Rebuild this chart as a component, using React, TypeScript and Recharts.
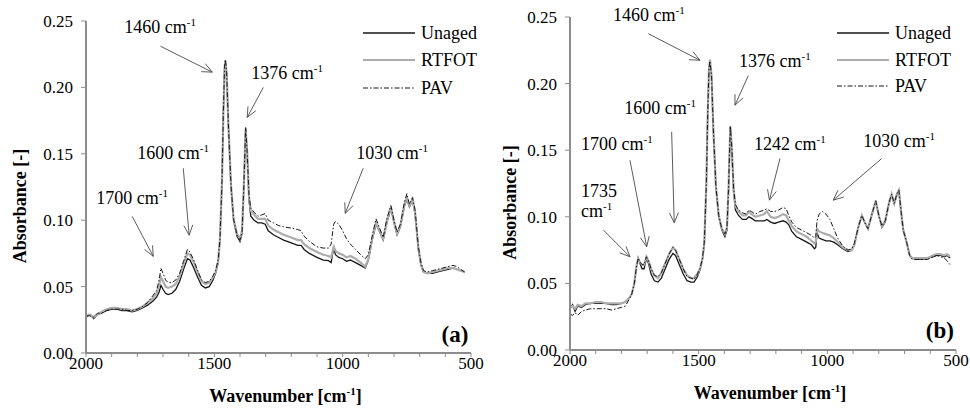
import React from "react"
import { LineChart, Line, XAxis, YAxis, Legend, ReferenceLine, ReferenceDot } from "recharts"

const FONT = "'Liberation Serif', 'Times New Roman', serif"
const AXIS = "#8c8c8c"

// ---- panel (a) ----
const waveA = [
  2000, 1985, 1970, 1955, 1940, 1920, 1900, 1880, 1860, 1840,
  1820, 1800, 1780, 1760, 1740, 1725, 1715, 1708, 1700, 1690,
  1680, 1665, 1650, 1635, 1620, 1605, 1595, 1580, 1565, 1550,
  1535, 1520, 1505, 1495, 1485, 1478, 1470, 1465, 1460, 1457,
  1452, 1445, 1435, 1425, 1412, 1400, 1392, 1385, 1378, 1372,
  1365, 1358, 1345, 1330, 1315, 1302, 1290, 1270, 1250, 1230,
  1200, 1175, 1162, 1150, 1130, 1100, 1075, 1055, 1045, 1035,
  1028, 1015, 1000, 985, 970, 950, 930, 912, 900, 885,
  870, 858, 842, 828, 812, 800, 788, 775, 760, 750,
  740, 728, 718, 705, 695, 685, 670, 650, 630, 610,
  590, 570, 555, 540, 525,
]
const unagedA = [
  0.027, 0.029, 0.026, 0.029, 0.030, 0.032, 0.033, 0.033, 0.032, 0.032,
  0.031, 0.032, 0.034, 0.036, 0.039, 0.042, 0.046, 0.051, 0.048, 0.045,
  0.044, 0.045, 0.048, 0.054, 0.063, 0.071, 0.070, 0.064, 0.057, 0.051,
  0.049, 0.050, 0.055, 0.060, 0.068, 0.085, 0.130, 0.180, 0.215, 0.220,
  0.210, 0.170, 0.125, 0.100, 0.088, 0.084, 0.090, 0.125, 0.169, 0.150,
  0.115, 0.103, 0.100, 0.098, 0.098, 0.097, 0.092, 0.089, 0.087, 0.085,
  0.083, 0.081, 0.081, 0.078, 0.075, 0.072, 0.070, 0.0695, 0.068, 0.079,
  0.074, 0.072, 0.071, 0.069, 0.070, 0.068, 0.066, 0.064, 0.070, 0.085,
  0.097, 0.092, 0.085, 0.098, 0.109, 0.098, 0.089, 0.095, 0.110, 0.116,
  0.110, 0.115, 0.105, 0.078, 0.066, 0.061, 0.060, 0.060, 0.061, 0.062,
  0.063, 0.064, 0.063, 0.062, 0.061,
]
const rtfotA = [
  0.028, 0.029, 0.027, 0.029, 0.031, 0.033, 0.034, 0.034, 0.033, 0.033,
  0.032, 0.033, 0.035, 0.038, 0.041, 0.045, 0.051, 0.057, 0.054, 0.050,
  0.049, 0.050, 0.052, 0.058, 0.067, 0.075, 0.074, 0.068, 0.061, 0.054,
  0.052, 0.053, 0.057, 0.061, 0.069, 0.086, 0.130, 0.180, 0.215, 0.220,
  0.210, 0.171, 0.126, 0.101, 0.090, 0.086, 0.092, 0.126, 0.169, 0.151,
  0.118, 0.107, 0.104, 0.101, 0.101, 0.101, 0.096, 0.093, 0.091, 0.089,
  0.087, 0.085, 0.085, 0.082, 0.079, 0.076, 0.074, 0.073, 0.072, 0.080,
  0.077, 0.075, 0.074, 0.072, 0.073, 0.071, 0.068, 0.065, 0.071, 0.086,
  0.098, 0.093, 0.086, 0.099, 0.110, 0.099, 0.090, 0.096, 0.111, 0.117,
  0.111, 0.116, 0.106, 0.079, 0.067, 0.061, 0.060, 0.061, 0.062, 0.063,
  0.064, 0.064, 0.063, 0.062, 0.061,
]
const pavA = [
  0.028, 0.028, 0.027, 0.030, 0.030, 0.032, 0.033, 0.033, 0.033, 0.032,
  0.032, 0.033, 0.035, 0.038, 0.043, 0.047, 0.055, 0.064, 0.060, 0.055,
  0.053, 0.053, 0.055, 0.060, 0.069, 0.078, 0.076, 0.070, 0.062, 0.055,
  0.053, 0.054, 0.058, 0.062, 0.070, 0.086, 0.130, 0.180, 0.216, 0.221,
  0.211, 0.171, 0.126, 0.101, 0.089, 0.085, 0.091, 0.126, 0.170, 0.151,
  0.119, 0.109, 0.106, 0.103, 0.104, 0.105, 0.100, 0.098, 0.096, 0.095,
  0.094, 0.093, 0.092, 0.088, 0.084, 0.080, 0.079, 0.079, 0.082, 0.097,
  0.099, 0.097, 0.092, 0.086, 0.082, 0.078, 0.074, 0.071, 0.074, 0.088,
  0.101, 0.095, 0.087, 0.101, 0.111, 0.100, 0.091, 0.097, 0.113, 0.120,
  0.112, 0.117, 0.108, 0.080, 0.068, 0.062, 0.061, 0.062, 0.063, 0.064,
  0.065, 0.066, 0.065, 0.063, 0.061,
]

// ---- panel (b) ----
const waveB = [
  2000, 1990, 1980, 1970, 1955, 1940, 1920, 1900, 1880, 1860,
  1840, 1820, 1800, 1785, 1770, 1760, 1750, 1742, 1735, 1728,
  1720, 1712, 1703, 1695, 1685, 1672, 1658, 1645, 1630, 1615,
  1600, 1590, 1575, 1560, 1545, 1530, 1518, 1505, 1495, 1485,
  1478, 1470, 1465, 1460, 1456, 1450, 1443, 1433, 1422, 1410,
  1398, 1390, 1384, 1377, 1371, 1364, 1357, 1345, 1330, 1315,
  1305, 1295, 1280, 1262, 1245, 1235, 1220, 1205, 1190, 1172,
  1160, 1150, 1138, 1120, 1100, 1080, 1062, 1050, 1045, 1040,
  1032, 1020, 1005, 990, 975, 960, 940, 920, 905, 895,
  880, 866, 855, 842, 828, 812, 800, 788, 775, 760,
  750, 740, 730, 722, 714, 705, 692, 680, 670, 650,
  630, 610, 590, 575, 560, 545, 535, 523,
]
const unagedB = [
  0.031, 0.034, 0.029, 0.033, 0.032, 0.034, 0.035, 0.035, 0.035, 0.035,
  0.034, 0.034, 0.035, 0.036, 0.039, 0.042, 0.050, 0.062, 0.069, 0.065,
  0.061, 0.061, 0.069, 0.065, 0.057, 0.052, 0.051, 0.054, 0.061, 0.068,
  0.0725, 0.071, 0.064, 0.057, 0.052, 0.051, 0.051, 0.055, 0.060, 0.068,
  0.080, 0.125, 0.175, 0.210, 0.216, 0.205, 0.165, 0.122, 0.100, 0.090,
  0.085, 0.090, 0.120, 0.168, 0.150, 0.118, 0.105, 0.101, 0.098, 0.098,
  0.100, 0.099, 0.097, 0.097, 0.097, 0.098, 0.096, 0.095, 0.096, 0.097,
  0.096, 0.094, 0.089, 0.085, 0.083, 0.081, 0.079, 0.076, 0.077, 0.088,
  0.084, 0.083, 0.082, 0.082, 0.081, 0.079, 0.076, 0.074, 0.075, 0.079,
  0.092, 0.101, 0.096, 0.091, 0.101, 0.112, 0.101, 0.092, 0.096, 0.110,
  0.116, 0.110, 0.116, 0.120, 0.105, 0.090, 0.081, 0.071, 0.069, 0.068,
  0.068, 0.069, 0.070, 0.071, 0.071, 0.070, 0.071, 0.069,
]
const rtfotB = [
  0.032, 0.033, 0.031, 0.034, 0.033, 0.035, 0.035, 0.036, 0.036, 0.035,
  0.035, 0.035, 0.035, 0.036, 0.039, 0.042, 0.050, 0.063, 0.069, 0.066,
  0.064, 0.064, 0.070, 0.067, 0.061, 0.056, 0.054, 0.058, 0.065, 0.072,
  0.077, 0.075, 0.068, 0.061, 0.056, 0.054, 0.054, 0.057, 0.061, 0.069,
  0.081, 0.126, 0.176, 0.211, 0.218, 0.206, 0.166, 0.123, 0.101, 0.091,
  0.087, 0.092, 0.121, 0.168, 0.151, 0.120, 0.108, 0.104, 0.101, 0.101,
  0.104, 0.102, 0.100, 0.101, 0.102, 0.104, 0.100, 0.099, 0.100, 0.102,
  0.101, 0.097, 0.093, 0.089, 0.087, 0.085, 0.082, 0.080, 0.081, 0.091,
  0.089, 0.088, 0.087, 0.086, 0.084, 0.081, 0.077, 0.075, 0.075, 0.079,
  0.092, 0.101, 0.096, 0.091, 0.101, 0.112, 0.101, 0.093, 0.097, 0.111,
  0.117, 0.110, 0.117, 0.120, 0.105, 0.090, 0.081, 0.071, 0.069, 0.069,
  0.069, 0.069, 0.071, 0.072, 0.072, 0.071, 0.072, 0.070,
]
const pavB = [
  0.027, 0.026, 0.028, 0.026, 0.029, 0.030, 0.031, 0.031, 0.031, 0.031,
  0.030, 0.031, 0.032, 0.033, 0.038, 0.042, 0.050, 0.062, 0.069, 0.066,
  0.064, 0.064, 0.070, 0.067, 0.061, 0.056, 0.055, 0.058, 0.065, 0.072,
  0.077, 0.075, 0.068, 0.061, 0.055, 0.054, 0.053, 0.057, 0.061, 0.069,
  0.081, 0.126, 0.176, 0.211, 0.217, 0.206, 0.166, 0.123, 0.101, 0.091,
  0.087, 0.092, 0.121, 0.168, 0.151, 0.121, 0.109, 0.105, 0.103, 0.102,
  0.105, 0.104, 0.102, 0.104, 0.105, 0.106, 0.104, 0.104, 0.105, 0.107,
  0.106, 0.101, 0.096, 0.092, 0.090, 0.088, 0.086, 0.084, 0.085, 0.097,
  0.102, 0.104, 0.102, 0.098, 0.091, 0.084, 0.078, 0.075, 0.076, 0.080,
  0.092, 0.101, 0.096, 0.091, 0.101, 0.112, 0.101, 0.093, 0.097, 0.111,
  0.117, 0.110, 0.117, 0.120, 0.105, 0.090, 0.081, 0.071, 0.068, 0.068,
  0.068, 0.068, 0.070, 0.071, 0.070, 0.069, 0.067, 0.064,
]

const xTicks = [2000, 1900, 1800, 1700, 1600, 1500, 1400, 1300, 1200, 1100, 1000, 900, 800, 700, 600, 500]
const yTicks = [0, 0.05, 0.1, 0.15, 0.2, 0.25]

// peak annotations: label position and arrow (tail -> head), in wavenumber / absorbance
const notesA = [
  { label: "1460", at: [1851, 0.2407], from: [1710, 0.231], to: [1508, 0.2115] },
  { label: "1376", at: [1356, 0.2061], from: [1309, 0.2], to: [1372, 0.1774] },
  { label: "1600", at: [1800, 0.1459], from: [1621, 0.1391], to: [1598, 0.0887] },
  { label: "1700", at: [1960, 0.112], from: [1820, 0.1029], to: [1738, 0.0728] },
  { label: "1030", at: [947, 0.1459], from: [920, 0.1391], to: [990, 0.1052] },
]
const notesB = [
  { label: "1460", at: [1833, 0.2468], from: [1696, 0.2375], to: [1495, 0.2175] },
  { label: "1376", at: [1343, 0.2125], from: [1307, 0.206], to: [1359, 0.1838] },
  { label: "1600", at: [1789, 0.1775], from: [1605, 0.1638], to: [1595, 0.0955] },
  { label: "1700", at: [1957, 0.15], from: [1767, 0.1425], to: [1702, 0.0775] },
  { label: "1735", at: [1957, 0.115], wrap: true, from: [1870, 0.09], to: [1767, 0.07] },
  { label: "1242", at: [1285, 0.1505], from: [1184, 0.1437], to: [1225, 0.1125] },
  { label: "1030", at: [860, 0.1525], from: [789, 0.1437], to: [977, 0.1125] },
]

const series = [
  { key: "unaged", name: "Unaged", color: "#161616", width: 1.3, dash: undefined },
  { key: "rtfot", name: "RTFOT", color: "#adadad", width: 2.2, dash: undefined },
  { key: "pav", name: "PAV", color: "#161616", width: 1, dash: "5 2 1.5 2" },
]

const toRows = (w: number[], u: number[], r: number[], p: number[]) =>
  w.map((x, i) => ({ w: x, unaged: u[i], rtfot: r[i], pav: p[i] }))

function Arrow(props: any) {
  const { x1, y1, x2, y2 } = props
  const a = Math.atan2(y2 - y1, x2 - x1)
  const len = 11
  const s = 0.42
  const p1 = `${x2 - len * Math.cos(a - s)},${y2 - len * Math.sin(a - s)}`
  const p2 = `${x2 - len * Math.cos(a + s)},${y2 - len * Math.sin(a + s)}`
  return (
    <g stroke="#4a4a4a" strokeWidth={0.9} fill="none">
      <line x1={x1} y1={y1} x2={x2} y2={y2} />
      <polyline points={`${p1} ${x2},${y2} ${p2}`} />
    </g>
  )
}

function Unit() {
  return (
    <>
      cm<tspan dy={-7} fontSize={11}>-1</tspan>
    </>
  )
}

function NoteText({ cx, cy, label, wrap }: any) {
  const common = { fontSize: 18, fill: "#000", style: { fontFamily: FONT } }
  if (wrap) {
    return (
      <g>
        <text x={cx} y={cy} {...common}>{label}</text>
        <text x={cx} y={cy + 20} {...common}><Unit /></text>
      </g>
    )
  }
  return (
    <text x={cx} y={cy} {...common}>
      {label} <Unit />
    </text>
  )
}

function LegendBox({ rowH }: { rowH: number }) {
  return (
    <div style={{ fontFamily: FONT, fontSize: 18, color: "#000" }}>
      {series.map((s) => (
        <div key={s.key} style={{ display: "flex", alignItems: "center", height: rowH }}>
          <svg width={52} height={6}>
            <line x1={0} y1={3} x2={52} y2={3} stroke={s.color} strokeWidth={s.width} strokeDasharray={s.dash} />
          </svg>
          <span style={{ marginLeft: 6, lineHeight: 1 }}>{s.name}</span>
        </div>
      ))}
    </div>
  )
}

interface PanelProps {
  rows: any[]
  notes: any[]
  tag: string
  tagAt: number[]
  top: number
  bottom: number
  left: number
  yTitleX: number
  legendTop: number
  legendLeft: number
  rowH: number
}

function Panel({ rows, notes, tag, tagAt, top, bottom, left, yTitleX, legendTop, legendLeft, rowH }: PanelProps) {
  const tickStyle = { fontSize: 17, fill: "#000" }
  return (
    <LineChart width={485} height={409} data={rows} margin={{ top, right: 14, bottom, left }}>
      <XAxis
        dataKey="w"
        type="number"
        domain={[500, 2000]}
        reversed
        ticks={xTicks}
        interval={0}
        tickFormatter={(v) => (v % 500 === 0 ? String(v) : "")}
        axisLine={{ stroke: AXIS, strokeWidth: 2 }}
        tickLine={{ stroke: AXIS }}
        tickSize={4}
        tickMargin={0}
        height={30}
        tick={tickStyle}
        label={{
          content: ({ viewBox }: any) => (
            <text
              x={viewBox.x + viewBox.width / 2 + 7}
              y={viewBox.y + 49}
              textAnchor="middle"
              fontSize={18}
              fontWeight="bold"
            >
              Wavenumber [<Unit />
              <tspan dy={7}>]</tspan>
            </text>
          ),
        }}
      />
      <YAxis
        type="number"
        domain={[0, 0.25]}
        ticks={yTicks}
        interval={0}
        tickFormatter={(v) => v.toFixed(2)}
        axisLine={{ stroke: AXIS, strokeWidth: 2 }}
        tickLine={{ stroke: AXIS }}
        tickSize={5}
        tickMargin={8}
        width={60}
        tick={tickStyle}
        label={{
          content: ({ viewBox }: any) => {
            const cy = viewBox.y + viewBox.height / 2 + 19
            return (
              <text
                x={yTitleX}
                y={cy}
                dy="0.35em"
                transform={`rotate(-90 ${yTitleX} ${cy})`}
                textAnchor="middle"
                fontSize={18}
                fontWeight="bold"
              >
                Absorbance [-]
              </text>
            )
          },
        }}
      />
      <Legend
        layout="vertical"
        align="center"
        verticalAlign="middle"
        wrapperStyle={{ top: legendTop, left: legendLeft, width: 130 }}
        content={() => <LegendBox rowH={rowH} />}
      />
      {series.map((s) => (
        <Line
          key={s.key}
          type="linear"
          dataKey={s.key}
          name={s.name}
          stroke={s.color}
          strokeWidth={s.width}
          strokeDasharray={s.dash}
          dot={false}
          activeDot={false}
          isAnimationActive={false}
        />
      ))}
      {notes.map((n) => (
        <ReferenceLine
          key={`arrow-${n.label}`}
          segment={[{ x: n.from[0], y: n.from[1] }, { x: n.to[0], y: n.to[1] }]}
          ifOverflow="visible"
          shape={Arrow}
        />
      ))}
      {notes.map((n) => (
        <ReferenceDot
          key={`text-${n.label}`}
          x={n.at[0]}
          y={n.at[1]}
          r={0}
          ifOverflow="visible"
          shape={(p: any) => <NoteText cx={p.cx} cy={p.cy} label={n.label} wrap={n.wrap} />}
        />
      ))}
      <ReferenceDot
        x={tagAt[0]}
        y={tagAt[1]}
        r={0}
        ifOverflow="visible"
        shape={(p: any) => (
          <text x={p.cx} y={p.cy} textAnchor="end" fontSize={23} fontWeight="bold">
            {tag}
          </text>
        )}
      />
    </LineChart>
  )
}

export default function App() {
  return (
    <div
      style={{
        position: "absolute",
        left: 0,
        top: 0,
        width: 970,
        height: 409,
        background: "#fff",
        display: "flex",
        fontFamily: FONT,
      }}
    >
      <style>{`svg text, svg tspan { font-family: 'Liberation Serif', 'Times New Roman', serif !important; }`}</style>
      <Panel
        rows={toRows(waveA, unagedA, rtfotA, pavA)}
        notes={notesA}
        tag="(a)"
        tagAt={[510, 0.008]}
        top={21}
        bottom={26}
        left={26}
        yTitleX={20}
        legendTop={19}
        legendLeft={363}
        rowH={27.5}
      />
      <Panel
        rows={toRows(waveB, unagedB, rtfotB, pavB)}
        notes={notesB}
        tag="(b)"
        tagAt={[508, 0.009]}
        top={17}
        bottom={29}
        left={25}
        yTitleX={25}
        legendTop={20}
        legendLeft={352}
        rowH={26.5}
      />
    </div>
  )
}
